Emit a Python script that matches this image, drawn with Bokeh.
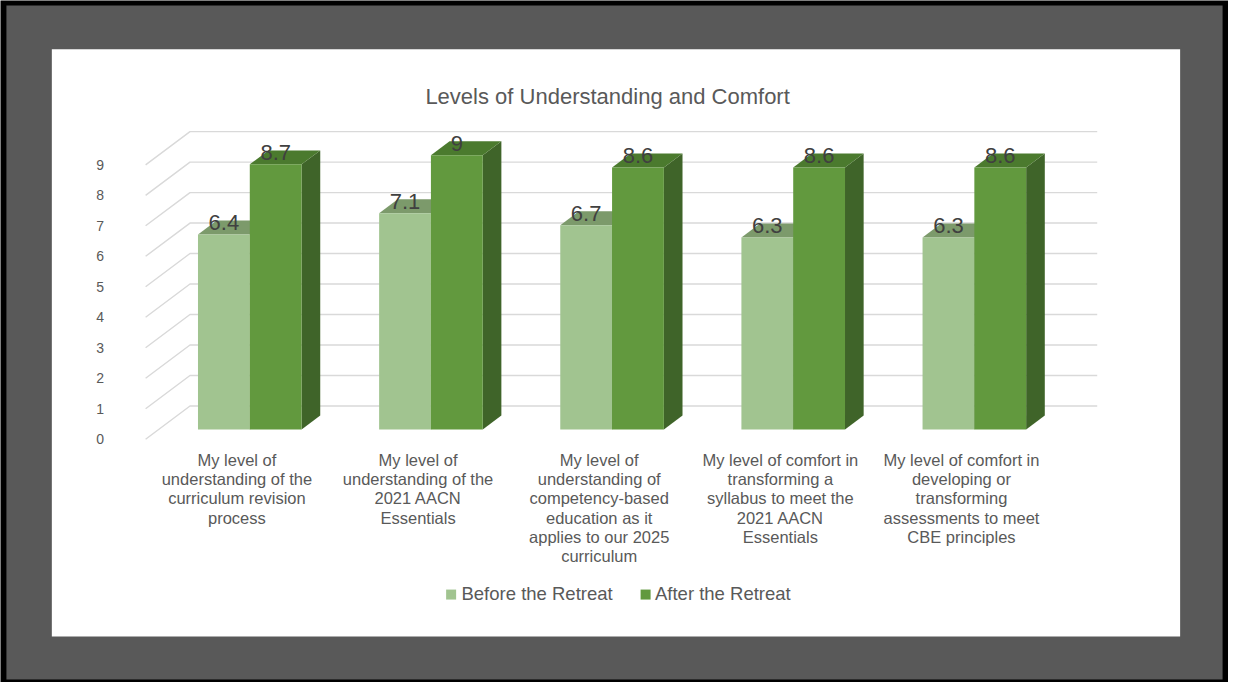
from bokeh.plotting import figure
from bokeh.models import ColumnDataSource, Range1d
from bokeh.core.properties import value
from bokeh.embed import file_html
from bokeh.resources import INLINE

# ---------------- data ----------------
categories = [
    "My level of\nunderstanding of the\ncurriculum revision\nprocess",
    "My level of\nunderstanding of the\n2021 AACN\nEssentials",
    "My level of\nunderstanding of\ncompetency-based\neducation as it\napplies to our 2025\ncurriculum",
    "My level of comfort in\ntransforming a\nsyllabus to meet the\n2021 AACN\nEssentials",
    "My level of comfort in\ndeveloping or\ntransforming\nassessments to meet\nCBE principles",
]
before_retreat = [6.4, 7.1, 6.7, 6.3, 6.3]
after_retreat = [8.7, 9.0, 8.6, 8.6, 8.6]
series_names = ["Before the Retreat", "After the Retreat"]
y_ticks = [0, 1, 2, 3, 4, 5, 6, 7, 8, 9]
title_text = "Levels of Understanding and Comfort"

# ---------------- layout helpers (reference-pixel -> data) ----------------
FONT = "Liberation Sans"
TXT = "#595959"
REF_W, REF_H = 1244, 698
X0_PX, X_UNIT = 239.5, 183.5     # category 0 at this pixel, px per category
Y0_PX, Y_UNIT = 449.0, 31.2      # value 0 (front plane) at this pixel, px per unit


def X(px):
    return (px - X0_PX) / X_UNIT


def Y(py):
    return (Y0_PX - py) / Y_UNIT


FLOOR_DX, FLOOR_DY = 0.245, 1.09      # perspective depth of the floor
F0, F1 = 0.29, 0.71                    # depth fraction occupied by the bars
BAR_W = 0.286
OX0, OY0 = F0 * FLOOR_DX, F0 * FLOOR_DY
DDX, DDY = (F1 - F0) * FLOOR_DX, (F1 - F0) * FLOOR_DY
GRID_L, GRID_R = X(147), X(1111)

colors = [
    dict(front="#A1C490", top="#7C9A6B", side="#6E8C5E"),
    dict(front="#62993E", top="#4B7A2E", side="#3F6429"),
]

p = figure(width=1228, height=682,
           x_range=Range1d(X(0), X(REF_W)), y_range=Range1d(Y(REF_H), Y(0)),
           output_backend="svg", toolbar_location=None,
           x_axis_location=None, y_axis_location=None, min_border=0,
           background_fill_color="#000000", border_fill_color="#000000",
           outline_line_color=None)
p.grid.visible = False

# slide frame: grey mat and white chart area
p.quad(left=[X(6)], right=[X(1238)], top=[Y(5)], bottom=[Y(695)],
       fill_color="#595959", line_color=None)
p.quad(left=[X(52)], right=[X(1195)], top=[Y(50)], bottom=[Y(651)],
       fill_color="#FFFFFF", line_color=None)

# perspective gridlines (diagonal side wall, then back wall)
p.multi_line(xs=[[GRID_L, GRID_L + FLOOR_DX, GRID_R] for _ in y_ticks],
             ys=[[v, v + FLOOR_DY, v + FLOOR_DY] for v in y_ticks],
             line_color="#D9D9D9", line_width=1.4)

# 3-D bars
for s, vals in enumerate([before_retreat, after_retreat]):
    L = [i + OX0 + (s - 1) * BAR_W for i in range(len(vals))]
    R = [l + BAR_W for l in L]
    T = [v + OY0 for v in vals]
    p.patches(xs=[[r, r + DDX, r + DDX, r] for r in R],
              ys=[[OY0, OY0 + DDY, t + DDY, t] for t in T],
              fill_color=colors[s]["side"], line_color=None)
    p.patches(xs=[[l, r, r + DDX, l + DDX] for l, r in zip(L, R)],
              ys=[[t, t, t + DDY, t + DDY] for t in T],
              fill_color=colors[s]["top"], line_color=None)
    src = ColumnDataSource(dict(left=L, right=R, bottom=[OY0] * len(vals), top=T))
    p.quad(left="left", right="right", bottom="bottom", top="top", source=src,
           fill_color=colors[s]["front"], line_color=None)
    lab = ColumnDataSource(dict(x=[(l + r) / 2 for l, r in zip(L, R)],
                                y=[v + 0.70 for v in vals],
                                t=[f"{v:g}" for v in vals]))
    p.text(x="x", y="y", text="t", source=lab, text_align="center",
           text_baseline="alphabetic", text_font=value(FONT),
           text_font_size="22px", text_color="#404040")

# value axis labels
ysrc = ColumnDataSource(dict(x=[X(105)] * len(y_ticks), y=y_ticks, t=[str(v) for v in y_ticks]))
p.text(x="x", y="y", text="t", source=ysrc, text_align="right", text_baseline="middle",
       text_font=value(FONT), text_font_size="14px", text_color=TXT)

# category labels
csrc = ColumnDataSource(dict(x=list(range(len(categories))), y=[Y(461)] * len(categories), t=categories))
p.text(x="x", y="y", text="t", source=csrc, text_align="center", text_baseline="top",
       text_font=value(FONT), text_font_size="16.5px", text_line_height=1.07, text_color=TXT)

# title
p.text(x=[X(615)], y=[Y(98)], text=[title_text], text_align="center", text_baseline="middle",
       text_font=value(FONT), text_font_size="22px", text_color=TXT)

# legend
leg_sq_x = [X(456.5), X(653.5)]
leg_tx_x = [X(467), X(663)]
p.scatter(x=leg_sq_x, y=[Y(608)] * 2, marker="square", size=10,
          fill_color=[colors[0]["front"], colors[1]["front"]], line_color=None)
p.text(x=leg_tx_x, y=[Y(607)] * 2, text=series_names, text_align="left", text_baseline="middle",
       text_font=value(FONT), text_font_size="18.5px", text_color=TXT)

open("out.html", "w").write(file_html(p, INLINE))
